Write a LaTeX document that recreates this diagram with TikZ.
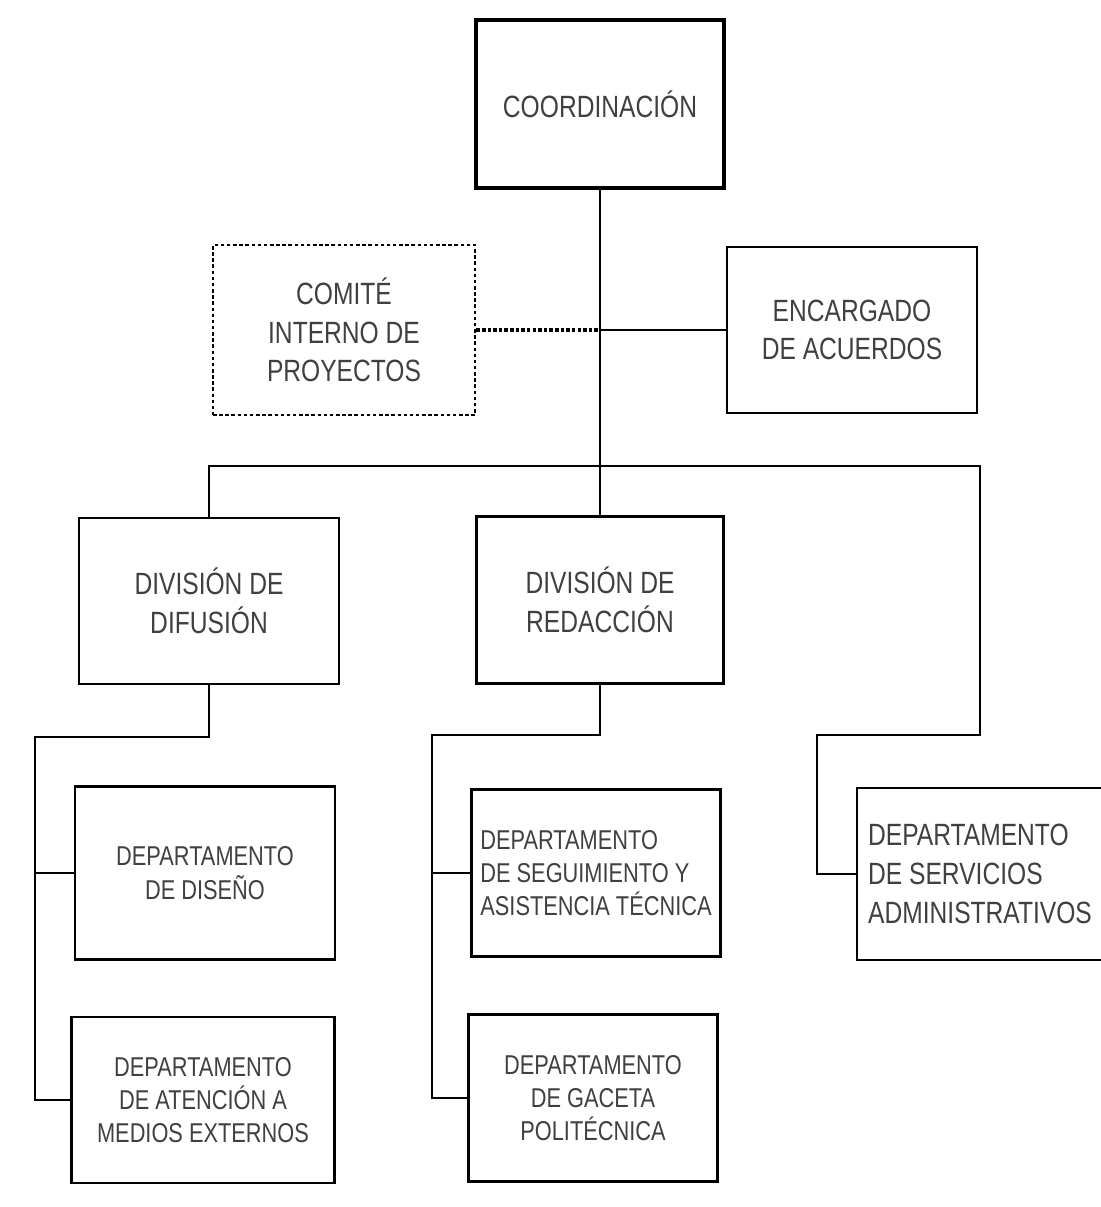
\documentclass[tikz,border=0pt]{standalone}
\usepackage{fontspec}
\setmainfont{Liberation Sans}[FakeStretch=0.8]
\usetikzlibrary{positioning}

\begin{document}
\begin{tikzpicture}[x=0.02cm,y=-0.02cm,
	box/.style={draw,line width=1.6pt,align=center,text=black!75,inner sep=2pt},
	bigtxt/.style={font=\fontsize{17.5}{22}\selectfont},
	smalltxt/.style={font=\fontsize{15.5}{19}\selectfont},
	conn/.style={line width=1.4pt}]
	\useasboundingbox[fill=white] (0,0) rectangle (1101,1207);

	\node[box,bigtxt,line width=2.8pt,minimum width=4.96cm,minimum height=3.36cm] (coord) at (600,104) {COORDINACIÓN};
	\node[box,bigtxt,dash pattern=on 2pt off 1.5pt,minimum width=5.24cm,minimum height=3.4cm] (comite) at (344,330) {COMITÉ\\INTERNO DE\\PROYECTOS};
	\node[box,bigtxt,minimum width=5cm,minimum height=3.32cm] (enc) at (852,330) {ENCARGADO\\DE ACUERDOS};

	\node[box,bigtxt,minimum width=5.2cm,minimum height=3.32cm] (difu) at (209,601) {DIVISIÓN DE\\DIFUSIÓN};
	\node[box,bigtxt,minimum width=4.94cm,minimum height=3.34cm] (redac) at (600,600) {DIVISIÓN DE\\REDACCIÓN};

	\node[box,smalltxt,minimum width=5.2cm,minimum height=3.46cm] (dis) at (205,873) {DEPARTAMENTO\\DE DISEÑO};
	\node[box,smalltxt,minimum width=5.26cm,minimum height=3.32cm] (aten) at (203,1100) {DEPARTAMENTO\\DE ATENCIÓN A\\MEDIOS EXTERNOS};
	\node[box,smalltxt,align=left,minimum width=4.98cm,minimum height=3.34cm] (segu) at (596,873) {DEPARTAMENTO\\DE SEGUIMIENTO Y\\ASISTENCIA TÉCNICA};
	\node[box,smalltxt,minimum width=4.98cm,minimum height=3.34cm] (gace) at (593,1098) {DEPARTAMENTO\\DE GACETA\\POLITÉCNICA};
	\node[box,bigtxt,align=left,minimum width=4.92cm,minimum height=3.44cm] (serv) at (980,874) {DEPARTAMENTO\\DE SERVICIOS\\ADMINISTRATIVOS};

	\coordinate (bar) at (980,466);
	\coordinate (rjog) at (817,735);
	\coordinate (ltop) at (35,737);
	\coordinate (mtop) at (432,735);

	\draw[conn] (coord.south) -- (redac.north);
	\draw[conn,dash pattern=on 2pt off 1.2pt,line width=1.8pt] (comite.east) -- (comite.east -| coord.south);
	\draw[conn] (enc.west -| coord.south) -- (enc.west);
	\draw[conn] (difu.north) |- (bar) |- (rjog) |- (serv.west);

	\draw[conn] (difu.south) |- (ltop) |- (aten.west);
	\draw[conn] (ltop |- dis.west) -- (dis.west);
	\draw[conn] (redac.south) |- (mtop) |- (gace.west);
	\draw[conn] (mtop |- segu.west) -- (segu.west);
\end{tikzpicture}
\end{document}
